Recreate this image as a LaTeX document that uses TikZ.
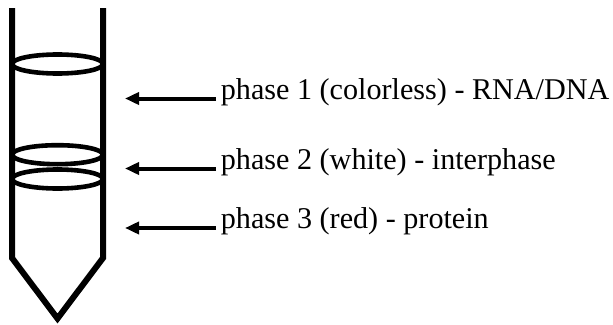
\documentclass[tikz,border=0pt]{standalone}
\usepackage{fontspec}
\setmainfont{Liberation Serif}
\usetikzlibrary{arrows.meta}
\begin{document}
\begin{tikzpicture}[x=1pt,y=-1pt,
  wall/.style={line width=6pt,line join=miter},
  band/.style={line width=4.6pt},
  pointer/.style={line width=4pt,-{Triangle[length=14pt,width=12pt]}},
  label/.style={anchor=base west,inner sep=0pt,font=\fontsize{30.15}{36}\selectfont}]
  \useasboundingbox (0,0) rectangle (613,324);
  % tube body with conical bottom
  \draw[wall] (12,8) -- (12,258) -- (57.5,318.5) -- (103,258) -- (103,8);
  % phase boundaries
  \draw[band] (57.5,64) ellipse [x radius=45.5,y radius=9.5];
  \draw[band] (57.5,154.7) ellipse [x radius=45.5,y radius=9.5];
  \draw[band] (57.5,179) ellipse [x radius=45.5,y radius=9.5];
  % labels
  \node[label] (t1) at (220.7,99) {phase 1 (colorless) - RNA/DNA};
  \node[label] (t2) at (220.7,169) {phase 2 (white) - interphase};
  \node[label] (t3) at (220.7,228.5) {phase 3 (red) - protein};
  \coordinate (a1) at (125,98.5);
  \coordinate (a2) at (125,168.5);
  \coordinate (a3) at (125,228);
  \draw[pointer] (t1.base west) ++(-4.7,-0.5) -- (a1);
  \draw[pointer] (t2.base west) ++(-4.7,-0.5) -- (a2);
  \draw[pointer] (t3.base west) ++(-4.7,-0.5) -- (a3);
\end{tikzpicture}
\end{document}
